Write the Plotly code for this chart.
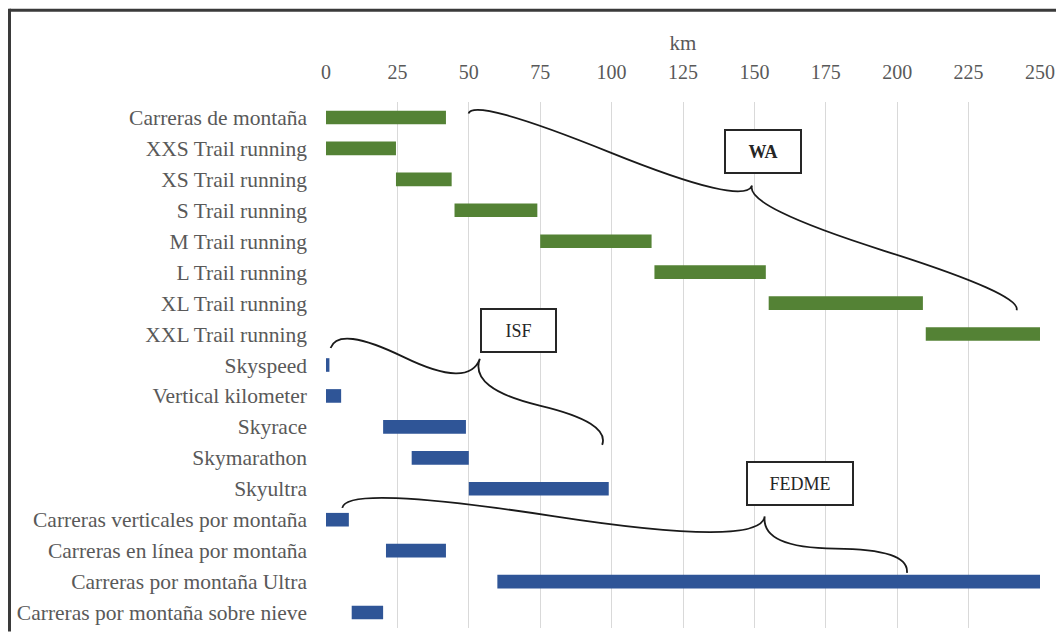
import math
import plotly.graph_objects as go

# ---------------- data ----------------
categories = [
    "Carreras de montaña", "XXS Trail running", "XS Trail running", "S Trail running",
    "M Trail running", "L Trail running", "XL Trail running", "XXL Trail running",
    "Skyspeed", "Vertical kilometer", "Skyrace", "Skymarathon", "Skyultra",
    "Carreras verticales por montaña", "Carreras en línea por montaña",
    "Carreras por montaña Ultra", "Carreras por montaña sobre nieve",
]
km_start = [0, 0, 24.5, 45, 75, 115, 155, 210,
            0, 0, 20, 30, 50,
            0, 21, 60, 9]
km_end = [42, 24.5, 44, 74, 114, 154, 209, 250,
          1.2, 5.3, 49, 50, 99,
          8, 42, 250, 20]
group = ["WA"] * 8 + ["ISF"] * 5 + ["FEDME"] * 4
x_ticks = [0, 25, 50, 75, 100, 125, 150, 175, 200, 225, 250]

# organisation labels: (name, km, row) and brace anchors: (start km,row), (end km,row), tip fraction, depth px
org_labels = [("WA", 153.1, 1.1), ("ISF", 67.5, 6.9), ("FEDME", 166.0, 11.83)]
braces = [
    ((49.9, -0.13), (241.8, 6.23), 0.5, 28),
    ((1.6, 7.45), (96.7, 10.58), 0.5, 40),
    ((5.7, 12.62), (203.4, 14.72), 0.74, 40),
]

# ---------------- style ----------------
W, H = 1056, 624   # page body adds an 8px offset
ML, MR, MT, MB = 318, 24, 93.5, 3.5
PW, PH = W - ML - MR, H - MT - MB
X_MAX = 250
SX = PW / X_MAX            # px per km
SY = PH / len(categories)  # px per row
GREEN, BLUE = "#548235", "#2f5597"
TXT = "#595959"
FONT = "Liberation Serif, Times New Roman, serif"

colors = [GREEN if g == "WA" else BLUE for g in group]
widths = [e - s for s, e in zip(km_start, km_end)]

fig = go.Figure(go.Bar(
    y=categories, x=widths, base=km_start, orientation="h",
    marker=dict(color=colors, line=dict(width=0)), width=0.44,
    hoverinfo="skip", showlegend=False,
))


def brace_path(a, b, frac, w, q=0.6):
    ax_, ay_ = a[0] * SX, a[1] * SY
    bx_, by_ = b[0] * SX, b[1] * SY
    dx, dy = bx_ - ax_, by_ - ay_
    L = math.hypot(dx, dy)
    ux, uy = dx / L, dy / L
    nx, ny = uy, -ux

    def P(t, off):
        return (ax_ + ux * t * L + nx * off, ay_ + uy * t * L + ny * off)

    tip = P(frac, w)
    c1, m1 = P(0, q * w), P(frac / 2, (1 - q) * w)
    c2, m2 = P(1, q * w), P((1 + frac) / 2, (1 - q) * w)
    r1 = (2 * m1[0] - c1[0], 2 * m1[1] - c1[1])
    r2 = (2 * m2[0] - c2[0], 2 * m2[1] - c2[1])

    def d(p):
        return f"{p[0] / SX:.4f},{p[1] / SY:.4f}"

    A, B = (ax_, ay_), (bx_, by_)
    return (f"M{d(A)} Q{d(c1)} {d(m1)} Q{d(r1)} {d(tip)} "
            f"M{d(B)} Q{d(c2)} {d(m2)} Q{d(r2)} {d(tip)}")


shapes = []
for a, b, f, w in braces:
    shapes.append(dict(type="path", xref="x", yref="y", path=brace_path(a, b, f, w),
                       line=dict(color="#1a1a1a", width=1.8), layer="above"))

# outer frame (top and left)
shapes.append(dict(type="line", xref="paper", yref="paper",
                   x0=(1.5 - ML) / PW, x1=(W - ML) / PW,
                   y0=1 + (MT - 1.5) / PH, y1=1 + (MT - 1.5) / PH,
                   line=dict(color="#3a3a3a", width=3)))
shapes.append(dict(type="line", xref="paper", yref="paper",
                   x0=(1.5 - ML) / PW, x1=(1.5 - ML) / PW,
                   y0=1 + MT / PH, y1=-MB / PH,
                   line=dict(color="#3a3a3a", width=3)))

box_w = {"WA": 74, "ISF": 73, "FEDME": 104}
annotations = []
for name, xk, yr in org_labels:
    annotations.append(dict(
        x=xk, y=yr, xref="x", yref="y", text=("<b>%s</b>" % name) if name == "WA" else name,
        showarrow=False, font=dict(family=FONT, size=18, color="#262626"),
        bgcolor="white", bordercolor="#262626", borderwidth=2, borderpad=0,
        width=box_w[name], height=41, align="center", valign="middle",
    ))

fig.update_layout(
    width=W, height=H,
    margin=dict(l=ML, r=MR, t=MT, b=MB, pad=0),
    paper_bgcolor="white", plot_bgcolor="white",
    font=dict(family=FONT, size=21, color=TXT),
    bargap=0.56,
    shapes=shapes, annotations=annotations,
    xaxis=dict(
        side="top", range=[0, X_MAX], tickvals=x_ticks, ticktext=[str(v) for v in x_ticks],
        showgrid=True, gridcolor="#d9d9d9", gridwidth=1.3, zeroline=False,
        showline=False, ticks="", ticklabelstandoff=18,
        tickfont=dict(family=FONT, size=20, color=TXT),
        title=dict(text="km", font=dict(family=FONT, size=21, color=TXT), standoff=4),
        fixedrange=True,
    ),
    yaxis=dict(
        type="category", categoryorder="array", categoryarray=categories,
        autorange="reversed", showgrid=False, zeroline=False, showline=False,
        ticks="", ticklabelstandoff=18,
        tickfont=dict(family=FONT, size=21.5, color=TXT), fixedrange=True,
    ),
)

fig.write_html("out.html")
